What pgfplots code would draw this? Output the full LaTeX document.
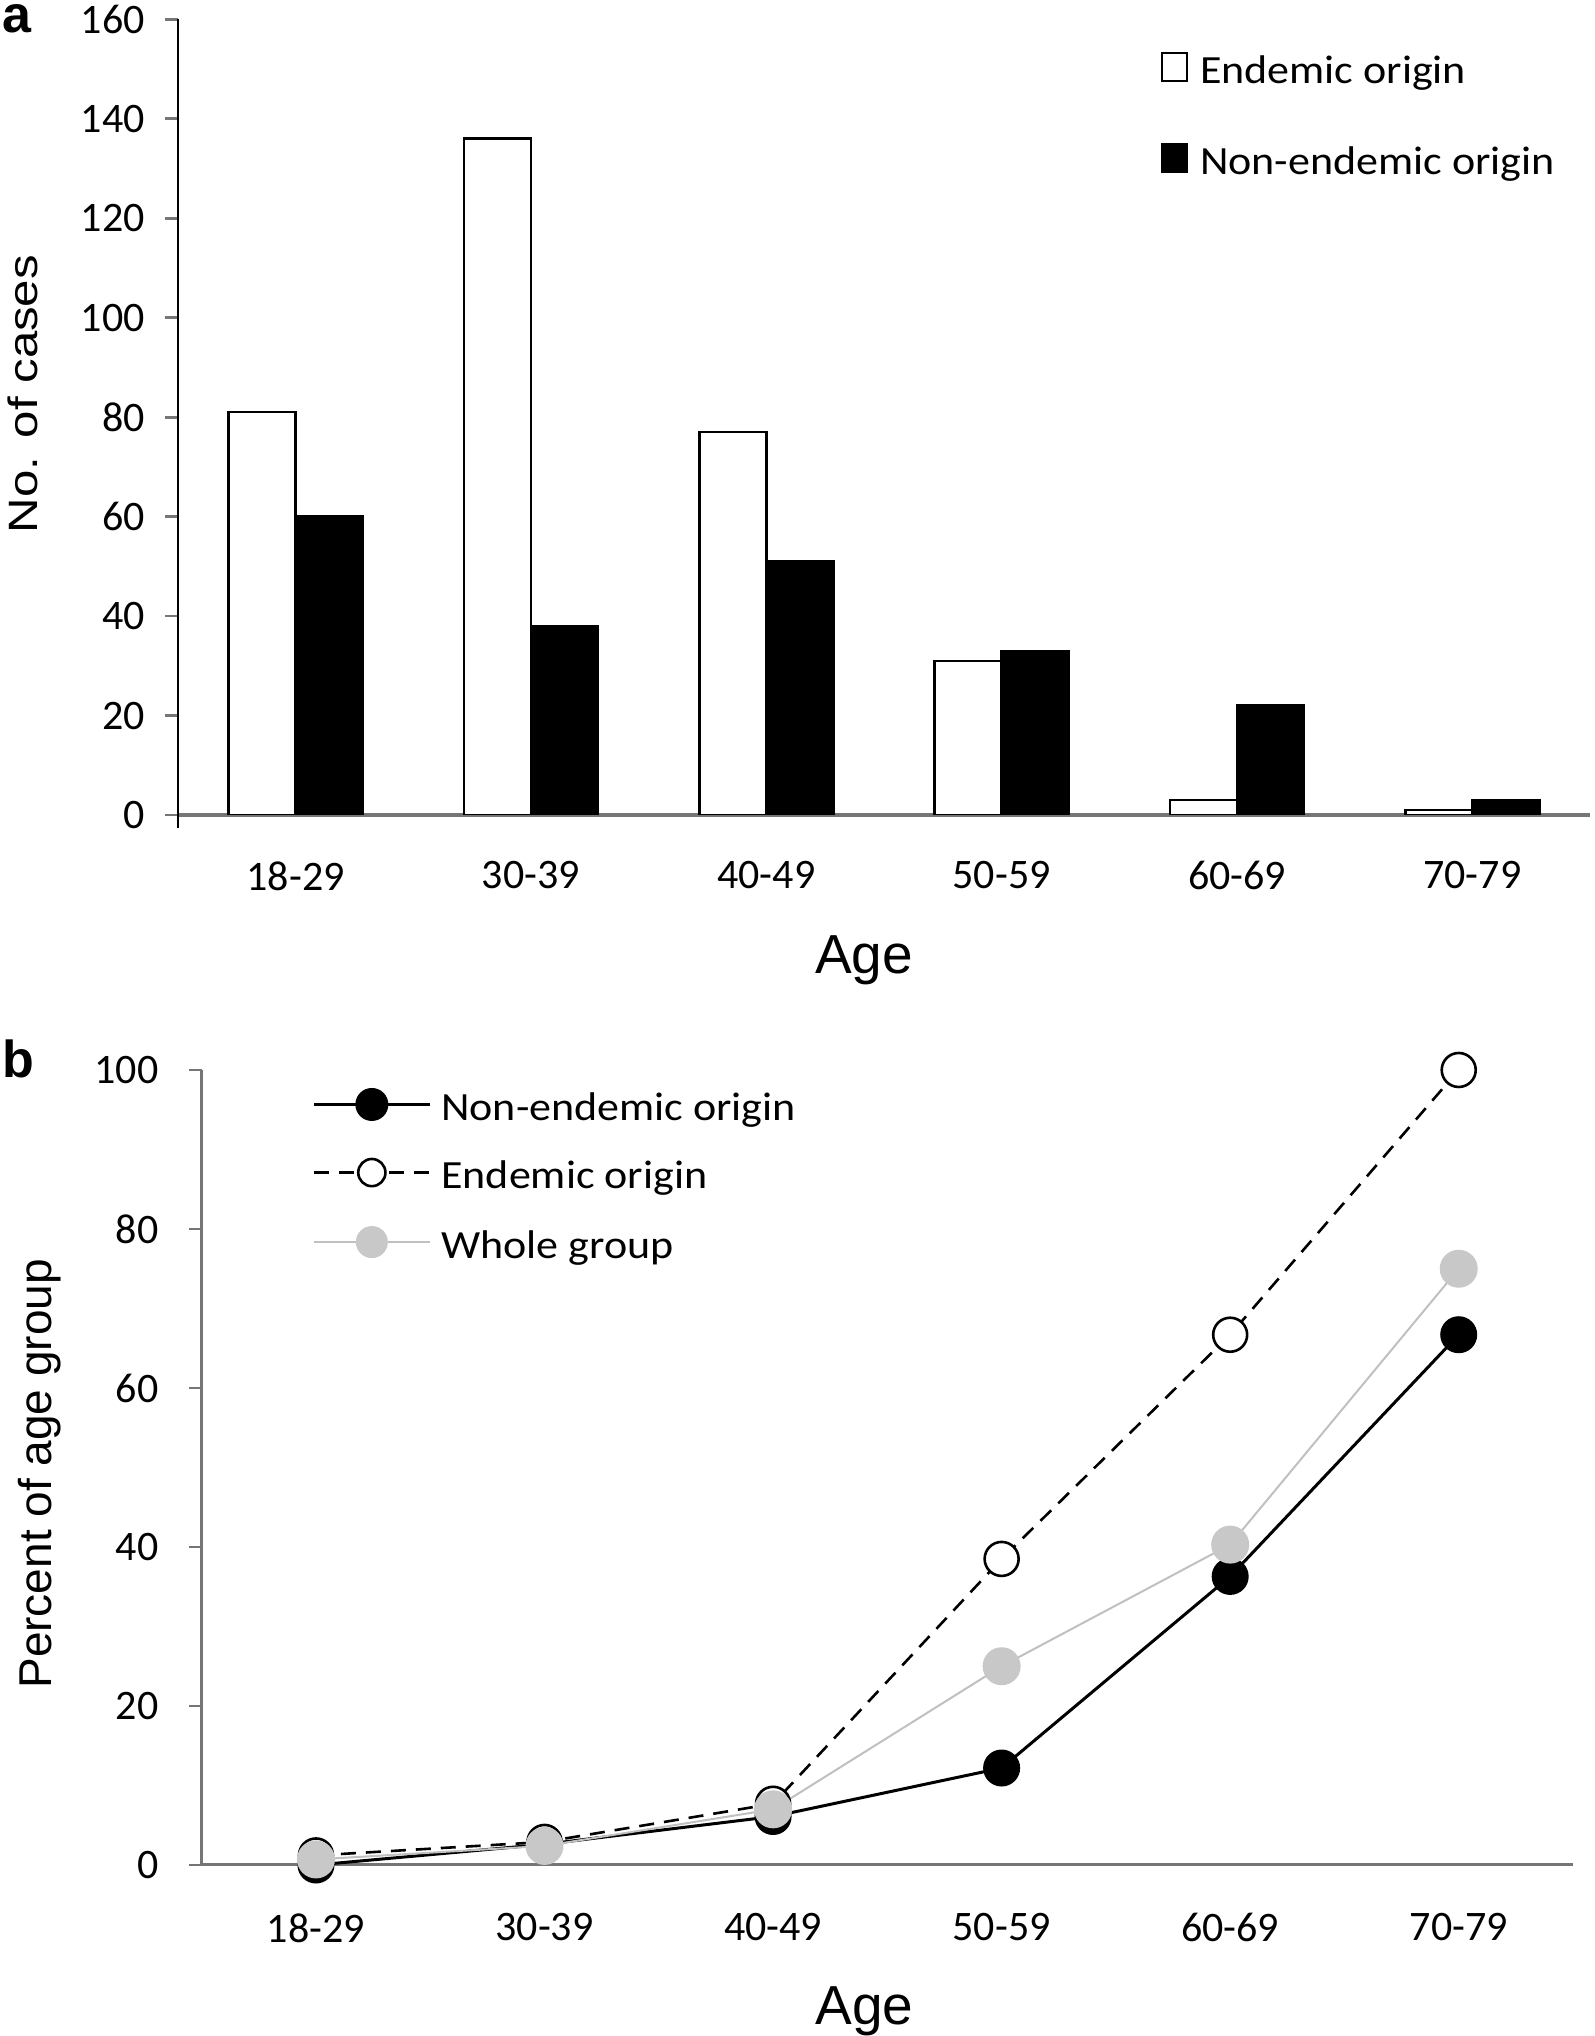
\documentclass[border=0pt]{standalone}
\usepackage{fontspec}
\setmainfont{Carlito}
\newfontfamily\arialf{Liberation Sans}
\newfontfamily\arialstretch[FakeStretch=1.2]{Liberation Sans}
\newfontfamily\legf[FakeStretch=1.1]{Carlito}
\usepackage{pgfplots}
\pgfplotsset{compat=1.18}
\definecolor{axgray}{RGB}{118,118,118}
\definecolor{lgray}{RGB}{200,200,200}
\definecolor{lgline}{RGB}{192,192,192}
\pgfplotsset{
  sqlegend/.style={legend image code/.code={\draw[##1, line width=1pt] (0pt,-3.5pt) rectangle (12.5pt,10.5pt);}},
  lnlegend/.style={legend image code/.code={\draw[mark repeat=2,mark phase=2,##1,mark size=#1] plot coordinates {(0pt,3pt) (29pt,3pt) (58pt,3pt)};}},
}
\begin{document}
\begin{tikzpicture}
\path[use as bounding box] (0,0) rectangle (797.5pt,1018pt);
% ---------------- panel a ----------------
\begin{axis}[
  at={(89pt,610.5pt)}, anchor=south west,
  scale only axis, width=706pt, height=397.85pt,
  xmin=-0.5, xmax=5.5, ymin=0, ymax=160,
  axis x line*=bottom, axis y line*=left,
  axis line style={-},
  x axis line style={draw=axgray, line width=1.6pt},
  y axis line style={draw=black, line width=1.4pt, shorten <=-6.5pt},
  xtick={0,...,5}, xticklabels={18-29,30-39,40-49,50-59,60-69,70-79},
  ytick={0,20,...,160},
  tick align=outside, major tick length=6.5pt,
  xtick style={draw=none},
  ytick style={draw=axgray, line width=1.4pt},
  ticklabel style={font=\fontsize{21}{25}\selectfont},
  /pgf/number format/assume math mode=true,
  yticklabel style={inner sep=0pt, anchor=east, xshift=-10pt},
  xticklabel style={inner sep=0pt, anchor=north, yshift=-16.5pt},
  xlabel={Age}, ylabel={No. of cases},
  xlabel style={font=\arialf\fontsize{27.5}{33}\selectfont, at={(axis description cs:0.486,-0.1998)}, anchor=base, inner sep=0pt},
  ylabel style={font=\arialstretch\fontsize{20.5}{25}\selectfont, at={(axis description cs:-0.0992,0.529)}, anchor=base, inner sep=0pt},
  legend cell align=left,
  legend style={at={(axis description cs:0.696,0.960)}, anchor=north west, draw=none, fill=none, inner sep=0pt, row sep=25.5pt,
    font=\legf\fontsize{20}{24}\selectfont, nodes={inner sep=0pt, text height=14pt, text depth=4pt},
    /tikz/every odd column/.append style={column sep=6pt}},
]
\addplot[ybar, bar width=0.285, bar shift=-0.1425, fill=white, draw=black, line width=1.3pt, sqlegend]
  coordinates {(0,81) (1,136) (2,77) (3,31) (4,3) (5,1)};
\addlegendentry{Endemic origin}
\addplot[ybar, bar width=0.285, bar shift=0.1425, fill=black, draw=black, line width=1.3pt, sqlegend]
  coordinates {(0,60) (1,38) (2,51) (3,33) (4,22) (5,3)};
\addlegendentry{Non-endemic origin}
\end{axis}
% ---------------- panel b ----------------
\begin{axis}[
  at={(100.85pt,85.5pt)}, anchor=south west,
  scale only axis, width=685.65pt, height=397.5pt,
  xmin=-0.5, xmax=5.5, ymin=0, ymax=100, clip=false,
  axis x line*=bottom, axis y line*=left,
  axis line style={-, draw=axgray, line width=1.5pt},
  xtick={0,...,5}, xticklabels={18-29,30-39,40-49,50-59,60-69,70-79},
  ytick={0,20,...,100},
  tick align=outside, major tick length=6.5pt,
  xtick style={draw=none},
  ytick style={draw=axgray, line width=1.4pt},
  ticklabel style={font=\fontsize{21}{25}\selectfont},
  /pgf/number format/assume math mode=true,
  yticklabel style={inner sep=0pt, anchor=east, xshift=-15pt},
  xticklabel style={inner sep=0pt, anchor=north, yshift=-17.5pt},
  xlabel={Age}, ylabel={Percent of age group},
  xlabel style={font=\arialf\fontsize{27.5}{33}\selectfont, at={(axis description cs:0.4834,-0.2006)}, anchor=base, inner sep=0pt},
  ylabel style={font=\arialf\fontsize{23}{28}\selectfont, at={(axis description cs:-0.1099,0.492)}, anchor=base, inner sep=0pt},
  legend cell align=left,
  legend style={at={(axis description cs:0.0804,0.976)}, anchor=north west, draw=none, fill=none, inner sep=0pt, row sep=15.25pt,
    font=\legf\fontsize{20}{24}\selectfont, nodes={inner sep=0pt, text height=14pt, text depth=4pt},
    /tikz/every odd column/.append style={column sep=5pt}},
]
\addplot[black, line width=1.5pt, mark=*, mark size=8.5pt, mark options={solid, fill=black, draw=black}, lnlegend=7.5pt]
  coordinates {(0,0) (1,2.6) (2,6.1) (3,12.2) (4,36.3) (5,66.7)};
\addlegendentry{Non-endemic origin}
\addplot[black, line width=1.3pt, dash pattern=on 7.5pt off 5pt, mark=*, mark size=8.5pt, mark options={solid, fill=white, draw=black, line width=1.3pt}, lnlegend=6.8pt]
  coordinates {(0,1.2) (1,2.9) (2,7.7) (3,38.5) (4,66.7) (5,100)};
\addlegendentry{Endemic origin}
\addplot[lgline, line width=1pt, mark=*, mark size=9pt, mark options={solid, fill=lgray, draw=lgray}, lnlegend=7.5pt]
  coordinates {(0,0.7) (1,2.4) (2,7.0) (3,25.0) (4,40.3) (5,75.0)};
\addlegendentry{Whole group}
\end{axis}
\node[anchor=base west, inner sep=0pt, font=\arialf\bfseries\fontsize{26}{30}\selectfont] at (1pt,1001.5pt) {a};
\node[anchor=base west, inner sep=0pt, font=\arialf\bfseries\fontsize{26}{30}\selectfont] at (1pt,479pt) {b};
\end{tikzpicture}
\end{document}
